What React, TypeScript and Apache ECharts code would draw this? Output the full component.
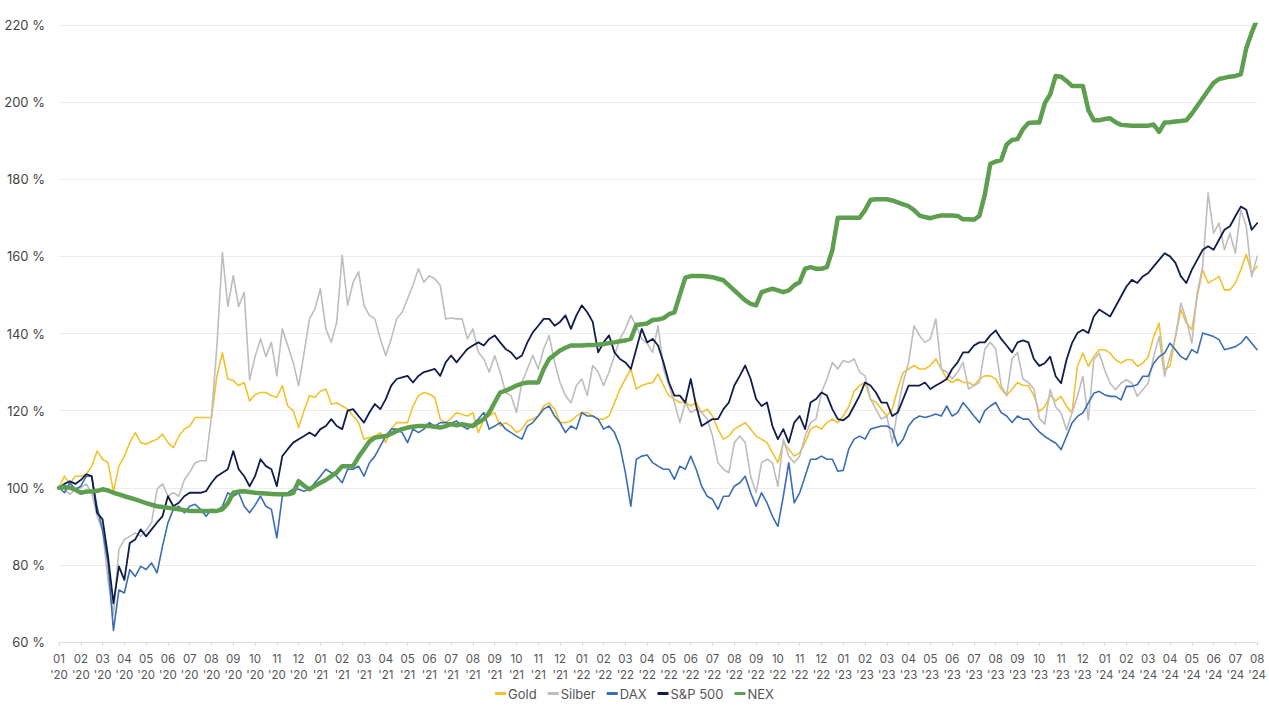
import React, { useEffect, useRef } from "react";
import * as echarts from "echarts";

// Month tick labels (01 '20 … 08 '24)
const xTickLabels = [
  "01\n'20", "02\n'20", "03\n'20", "04\n'20", "05\n'20", "06\n'20", "07\n'20", "08\n'20", "09\n'20", "10\n'20", "11\n'20", "12\n'20",
  "01\n'21", "02\n'21", "03\n'21", "04\n'21", "05\n'21", "06\n'21", "07\n'21", "08\n'21", "09\n'21", "10\n'21", "11\n'21", "12\n'21",
  "01\n'22", "02\n'22", "03\n'22", "04\n'22", "05\n'22", "06\n'22", "07\n'22", "08\n'22", "09\n'22", "10\n'22", "11\n'22", "12\n'22",
  "01\n'23", "02\n'23", "03\n'23", "04\n'23", "05\n'23", "06\n'23", "07\n'23", "08\n'23", "09\n'23", "10\n'23", "11\n'23", "12\n'23",
  "01\n'24", "02\n'24", "03\n'24", "04\n'24", "05\n'24", "06\n'24", "07\n'24", "08\n'24",
];

// Weekly-ish samples (4 per month), indexed in % of start value
const gold = [
  100, 103, 101, 103,
  103, 103.5, 105.6, 109.5,
  107.4, 106.5, 99, 105.6,
  108.2, 111.7, 114.3, 111.7,
  111.3, 112, 112.6, 113.9,
  111.7, 110.4, 113.4, 115.2,
  116, 118.2, 118.2, 118.2,
  118.2, 129, 135, 128.2,
  127.8, 126.5, 127.3, 122.5,
  124.2, 124.7, 124.7, 123.9,
  123.4, 126.5, 121.2, 120,
  115.6, 120, 123.9, 123.4,
  125, 125.6, 121.7, 122,
  121.2, 120.4, 118.6, 116.9,
  112.6, 113, 113.4, 114.3,
  111.7, 115.2, 116.9, 116.9,
  116.9, 121.2, 123.9, 124.7,
  124.3, 123.4, 117.8, 116.9,
  118, 119.5, 119, 118.6,
  119.5, 114.3, 117.8, 118.6,
  119.5, 116, 116.9, 116,
  114.3, 115.2, 117.3, 117.8,
  118.6, 121.2, 122, 120.4,
  116.9, 116.9, 117.3, 118.6,
  119.5, 119.5, 118.6, 117.8,
  117.8, 118.6, 122, 125.6,
  128.2, 130.8, 125.6, 126.5,
  127, 127.3, 129.5, 126.5,
  123.9, 123, 122.1, 122.1,
  121.2, 122.1, 119.5, 120.4,
  118.6, 115.2, 112.6, 113.4,
  115.2, 116, 116.9, 115.2,
  113.4, 112.6, 111.7, 109.1,
  106.5, 111.7, 110, 108.2,
  109.1, 111.7, 115.2, 116,
  115.2, 116.9, 117.8, 116.9,
  118.6, 121, 125, 126.5,
  127.3, 123, 122.1, 120.4,
  118.6, 120.4, 125.6, 129.9,
  130.8, 131.7, 130.8, 130.8,
  131.7, 133.4, 130.8, 128.2,
  127.3, 128.2, 127.3, 127.3,
  126.5, 128.2, 129, 129,
  128.2, 125.6, 123.9, 125.6,
  127.3, 126.5, 126.5, 123.9,
  119.8, 121, 124, 122.5,
  123.7, 121.1, 119.4, 131.5,
  134.9, 131.5, 134, 135.8,
  135.8, 134.9, 133.2, 132.3,
  133.2, 133.2, 131.5, 132.3,
  134, 139.2, 142.7, 130.6,
  131.5, 139.2, 146.2, 142.7,
  141, 149.6, 156.5, 153.1,
  153.9, 154.8, 151.3, 151.3,
  153.1, 156.5, 160.5, 155.7,
  157.4,
];

const silber = [
  100, 99.6, 98.3, 99.6,
  100, 101, 98.7, 92.6,
  89, 76, 67, 84,
  86.6, 87.4, 88.3, 87.4,
  89, 91, 99.6, 101,
  97.8, 98.7, 97.8, 102,
  104, 106.5, 107, 107,
  118.6, 136.9, 161, 147,
  155, 147, 150.7, 128,
  134, 138.6, 134, 137.7,
  129, 141.2, 136.9, 132.5,
  126.5, 135, 143.8, 146.4,
  151.6, 141.2, 137.7, 143,
  160.3, 147.3, 153.3, 156,
  147.3, 144.7, 143.8, 138.6,
  134.3, 138.6, 143.8, 145.5,
  149, 152.5, 156.8, 153.3,
  155, 154.2, 152.5, 143.8,
  144, 143.8, 143.8, 138.6,
  141.2, 135.1, 133.4, 130,
  134.3, 130, 124.7, 123.9,
  119.5, 127.3, 130.8, 134.3,
  130.8, 136, 139.5, 132.5,
  127.3, 123.9, 122, 126.5,
  128.2, 123.9, 131.7, 130,
  126.5, 130, 134.3, 138.6,
  141.2, 144.7, 142, 138.6,
  137.5, 135.1, 142, 130.8,
  126.5, 122.1, 116.9, 122.1,
  119.5, 120.4, 119.5, 117.8,
  113.4, 106.5, 104.8, 103.9,
  111.7, 113.4, 111.7, 103,
  98.7, 106.5, 107.4, 106.5,
  100.4, 112.6, 108.2, 106.5,
  108.2, 113.4, 116.9, 117.8,
  124.7, 128.2, 132.5, 130.8,
  133, 132.5, 133.4, 130,
  129, 123, 120.4, 117.8,
  118.6, 111.7, 120.4, 127.3,
  132.5, 142, 139.5, 137.7,
  138.6, 143.8, 130.8, 130,
  128.2, 130, 132.5, 125.6,
  126.5, 127.3, 136, 137.7,
  136, 126.5, 123.9, 133.4,
  135.1, 128.2, 127.3, 125.6,
  118, 116.5, 125.5, 121,
  119.4, 115, 119.4, 123.7,
  128.9, 117.6, 133.2, 134.9,
  130.6, 127.1, 125.4, 127.1,
  128, 127.1, 123.7, 125.4,
  127.1, 134, 139.2, 128.9,
  134, 139.2, 147.9, 143.6,
  137.5, 150.5, 157.4, 176.4,
  166, 168.6, 161.7, 166,
  160.8, 172.1, 167.8, 154.8,
  160,
];

const dax = [
  100, 98.7, 101.3, 99.6,
  100.4, 103, 103, 95,
  89, 80.5, 63, 73.5,
  72.7, 78.8, 77, 79.6,
  78.8, 80.5, 77.9, 84.8,
  90.9, 94.4, 95.2, 93.5,
  95.2, 95.7, 94.4, 92.6,
  94.4, 94, 95.2, 98.7,
  97.8, 98.7, 95.2, 93.5,
  95.5, 97.8, 95.2, 94.4,
  87, 97.8, 98.7, 99.6,
  99.6, 99.1, 99.6, 101.3,
  103, 104.8, 103.9, 103,
  101.3, 104.8, 104.8, 105.6,
  103, 106.5, 108.2, 110.8,
  113.4, 115.2, 115.2, 114.3,
  111.7, 115.2, 114.3, 115.2,
  116.9, 116, 116.9, 116.9,
  116.7, 117.3, 116, 115.2,
  116.5, 117.8, 119.5, 115.2,
  116, 116.9, 115.2, 114.3,
  113.4, 112.6, 116, 116.9,
  118.6, 120.4, 121.2, 118.6,
  116.9, 114.3, 116, 115.2,
  119.5, 118.6, 118.6, 117.8,
  115.2, 116, 114.3, 110.8,
  103.9, 95.2, 107.4, 108.2,
  108.5, 106.5, 105.6, 104.8,
  104.8, 102.2, 105.6, 104.8,
  108.2, 104.8, 100.4, 97.8,
  97, 94.4, 97.8, 97.8,
  100.4, 101.3, 103, 98.7,
  95.2, 98.7, 96.1, 92.6,
  90, 97.8, 106.5, 96.1,
  98.7, 103, 107.4, 107.4,
  108.2, 107.4, 107.4, 104.3,
  104.5, 110, 112.6, 113.4,
  112.6, 115.2, 115.6, 116,
  116, 115.2, 110.8, 112.6,
  116, 117.8, 118.6, 118.2,
  118.6, 119.1, 118.6, 121.2,
  118.6, 119.5, 122.1, 120.4,
  118.6, 116.9, 120, 121.2,
  122.1, 119.5, 118.6, 116.9,
  118.6, 117.8, 117.8, 116,
  114.5, 113.3, 112.4, 111.6,
  109.9, 113.3, 116.8, 118.5,
  119.4, 122, 124.5, 125,
  124.1, 123.7, 123.7, 122.8,
  126.3, 126.3, 126.7, 128.9,
  128.9, 132.3, 134, 134.9,
  137.5, 135.8, 134, 133.2,
  135.8, 134.9, 140.1, 139.7,
  139.2, 138.4, 135.8, 136.2,
  136.6, 137.5, 139.2, 137.5,
  135.8,
];

const sp500 = [
  100, 101, 101.7, 101,
  102, 103.5, 103, 93.5,
  91.8, 82.2, 70, 79.6,
  76.1, 85.7, 86.6, 89.2,
  87.4, 89.2, 91, 92.6,
  97.8, 95.2, 96.1, 97.8,
  98.7, 98.7, 98.7, 99.1,
  101.3, 103, 103.9, 104.8,
  109.5, 104.8, 103, 100.4,
  103, 107.4, 105.6, 104.8,
  100.4, 108.2, 110, 111.7,
  112.6, 113.4, 114.3, 113.4,
  115.2, 116, 117.8, 116,
  115.2, 120, 120.4, 118.6,
  116.9, 119.5, 121.7, 120.4,
  123, 126.5, 128.2, 128.6,
  129, 127.3, 129, 130,
  130.4, 130.8, 129, 132.5,
  134.3, 132.5, 134.3, 136,
  136.9, 137.7, 136.9, 138.6,
  139.5, 137.7, 136, 135.1,
  133.4, 134.3, 137.7, 140.3,
  142, 143.8, 143.8, 142,
  143, 144.7, 141.2, 144.7,
  147.3, 145.5, 143, 135.1,
  137.7, 139.5, 135.1, 133.4,
  132.5, 130.8, 136, 141.2,
  137.7, 138.6, 136.9, 132.5,
  127.3, 123.9, 123.9, 122.1,
  128.2, 121.2, 116, 116.9,
  117.8, 117.8, 120.4, 122.1,
  126.5, 129, 131.7, 128.2,
  123, 121.2, 122.1, 116,
  112.6, 115.2, 111.7, 116.9,
  118.6, 115.2, 122.1, 123,
  124.7, 123.9, 120.4, 117.8,
  117.5, 118.6, 121.2, 123.9,
  127.3, 126.5, 124.7, 122.1,
  122.1, 118.6, 119.5, 123,
  126.5, 126.5, 126.5, 127.3,
  125.6, 126.5, 127.3, 128.2,
  130.8, 132.5, 135.1, 135.1,
  136.9, 137.7, 137.7, 139.5,
  140.8, 138.6, 136.9, 135.1,
  137.7, 138.2, 137.7, 133.4,
  131.6, 132.3, 134, 128.9,
  127.1, 133.2, 137.5, 140.1,
  141, 140.1, 144.4, 146.2,
  145.3, 144.4, 147, 149.6,
  152.2, 153.9, 153.1, 154.8,
  155.7, 157.4, 159.1, 160.8,
  160, 158.3, 154.8, 153.1,
  156.5, 159.1, 161.7, 162.6,
  161.7, 164.3, 166.9, 167.8,
  170.4, 172.9, 172.1, 166.9,
  168.6,
];

const nex = [
  100, 100.2, 100, 99.5,
  98.7, 99, 99, 99.2,
  99.6, 99.3, 98.7, 98.3,
  97.8, 97.4, 97, 96.5,
  96, 95.6, 95.2, 95,
  94.8, 94.6, 94.4, 94.2,
  94, 94, 94, 94,
  94, 94, 94.4, 96,
  98.7, 99, 99.1, 98.9,
  98.7, 98.6, 98.5, 98.4,
  98.3, 98.3, 98.3, 98.6,
  101.7, 100.5, 99.6, 100.5,
  101.3, 102, 103, 104,
  105.6, 105.6, 105.6, 108,
  110, 112, 113, 113.2,
  113.4, 114, 114.7, 115.2,
  115.6, 115.8, 116, 116,
  116, 115.8, 115.6, 116,
  116.5, 116.2, 116.5, 116.2,
  116, 117, 117.8, 119.5,
  122.1, 124.7, 125.2, 125.8,
  126.5, 127, 127.3, 127.3,
  127.3, 130.8, 133.4, 134.5,
  135.6, 136.3, 136.9, 136.9,
  136.9, 137, 137, 137.1,
  137.3, 137.5, 137.7, 138,
  138.2, 138.6, 142.2, 142.4,
  142.6, 143.5, 143.6, 144,
  145, 145.5, 150, 154.5,
  154.9, 154.9, 154.9, 154.8,
  154.6, 154.2, 153.8, 152.5,
  151.2, 149.9, 148.6, 147.7,
  147.3, 150.7, 151.2, 151.6,
  151.2, 150.7, 151.2, 152.5,
  153.3, 156.8, 157.2, 156.8,
  156.8, 157.2, 161.6, 170,
  170, 170, 170, 170,
  172, 174.6, 174.8, 174.8,
  174.8, 174.5, 174, 173.5,
  173, 172, 170.6, 170.2,
  169.9, 170.3, 170.6, 170.6,
  170.6, 170.5, 169.6, 169.6,
  169.5, 170.5, 176, 184,
  184.6, 185, 189, 190.2,
  190.4, 193, 194.6, 194.7,
  194.7, 199.7, 202, 206.8,
  206.6, 205.5, 204.2, 204.2,
  204.2, 198, 195.3, 195.3,
  195.6, 195.8, 194.8, 194.1,
  194, 193.9, 193.9, 193.9,
  193.9, 194.2, 192.3, 194.7,
  194.8, 195, 195.1, 195.3,
  197, 199, 201, 203,
  205, 206, 206.3, 206.6,
  206.8, 207.2, 214, 218,
  221.5,
];

const seriesNames = ["Gold", "Silber", "DAX", "S&P 500", "NEX"];
const seriesColors = ["#F2C12E", "#BDBDBD", "#3A6DB5", "#111C4E", "#5E9E4F"];
const seriesValues = [gold, silber, dax, sp500, nex];
const seriesWidths = [1.6, 1.6, 1.6, 1.8, 4.5];

const SAMPLES_PER_MONTH = 4;

export default function App() {
  const ref = useRef<HTMLDivElement>(null);

  useEffect(() => {
    if (!ref.current) return;
    const chart = echarts.init(ref.current, undefined, { renderer: "svg" });
    const font = "Inter, 'Noto Sans', sans-serif";

    const series = seriesNames.map((name, s) => ({
      name,
      type: "line",
      data: seriesValues[s].map((v, i) => [i / SAMPLES_PER_MONTH, v]),
      showSymbol: false,
      symbol: "none",
      lineStyle: { color: seriesColors[s], width: seriesWidths[s], join: "round", cap: "round" },
      itemStyle: { color: seriesColors[s] },
      z: s === 4 ? 5 : 2,
    }));

    chart.setOption({
      animation: false,
      backgroundColor: "#ffffff",
      grid: { left: 59, right: 11, top: 25, bottom: 68, containLabel: false },
      legend: {
        bottom: 5,
        left: "center",
        itemWidth: 11,
        itemGap: 11,
        itemHeight: 3,
        textStyle: { color: "#555555", fontSize: 13, fontFamily: font, padding: [0, 0, 0, -3] },
        data: seriesNames.map((n, i) => ({
          name: n,
          icon: i === 4 ? "roundRect" : "rect",
          itemStyle: { color: seriesColors[i] },
        })),
      },
      xAxis: {
        type: "value",
        min: 0,
        max: xTickLabels.length - 1,
        interval: 1,
        axisLine: { show: true, lineStyle: { color: "#d9d9d9" } },
        axisTick: { show: true, length: 4, lineStyle: { color: "#d9d9d9" } },
        splitLine: { show: false },
        axisLabel: {
          color: "#555555",
          fontSize: 11.5,
          fontFamily: font,
          lineHeight: 16,
          margin: 9,
          formatter: (v: number) => xTickLabels[Math.round(v)] ?? "",
        },
      },
      yAxis: {
        type: "value",
        min: 60,
        max: 220,
        interval: 20,
        axisLine: { show: false },
        axisTick: { show: false },
        splitLine: { lineStyle: { color: "#ececec" } },
        axisLabel: {
          color: "#444444",
          fontSize: 13,
          fontFamily: font,
          margin: 14,
          formatter: (v: number) => `${v} %`,
        },
      },
      series,
    });

    return () => chart.dispose();
  }, []);

  return (
    <div
      ref={ref}
      style={{ position: "fixed", left: 0, top: 0, width: 1269, height: 710, background: "#fff" }}
    />
  );
}
